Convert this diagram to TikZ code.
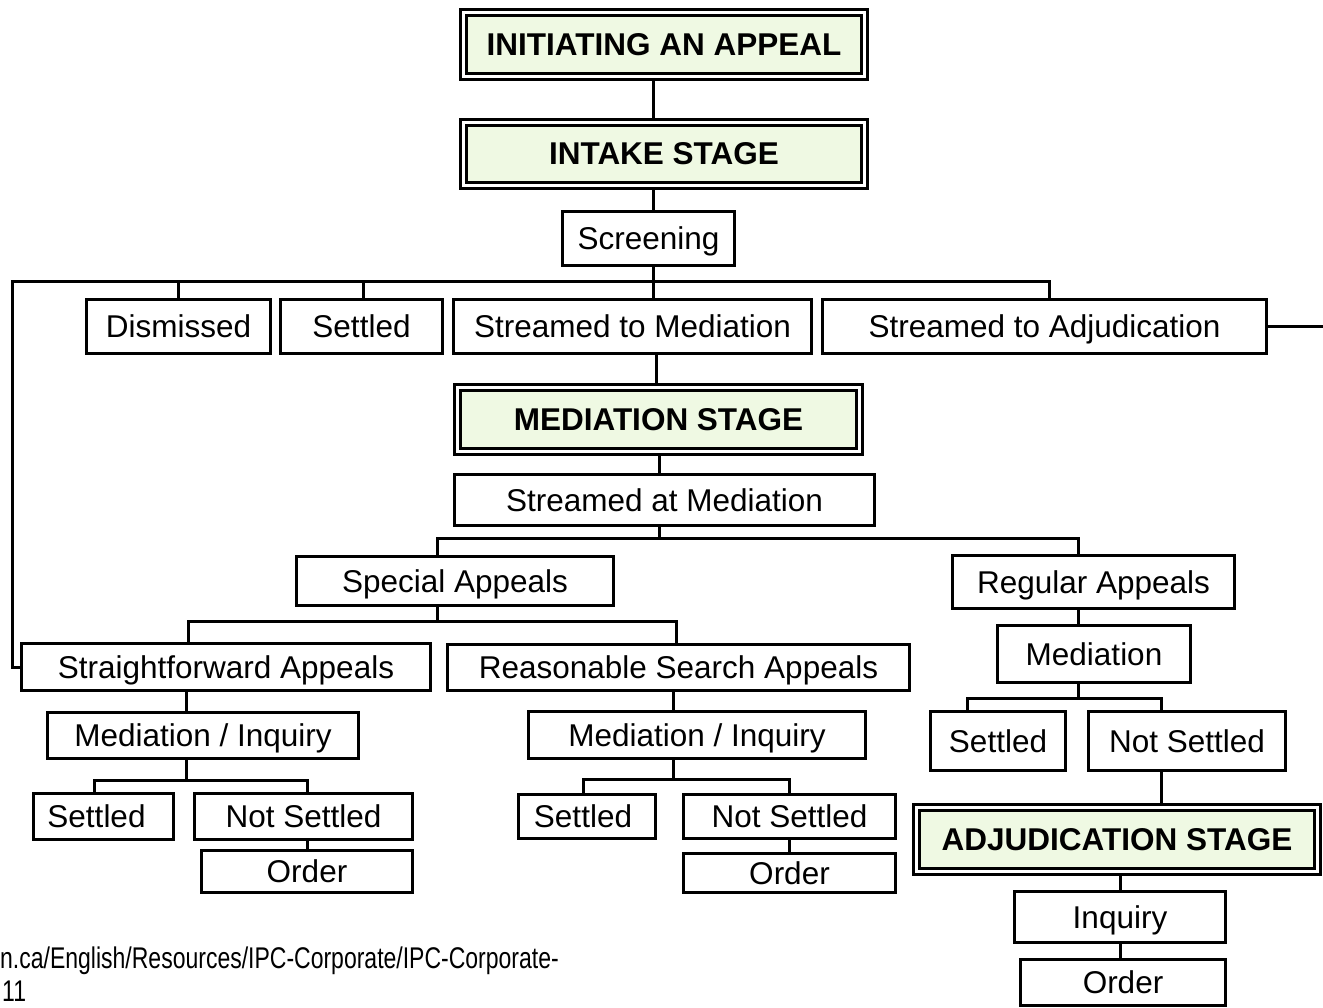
\documentclass[tikz,border=0pt]{standalone}
\usepackage{fontspec}
\setmainfont{Liberation Sans}
\definecolor{stagefill}{RGB}{239,249,227}
\newcommand{\bxnode}[7]{%
 \pgfmathsetmacro{\bcx}{(#3+#5)/2}%
 \pgfmathsetmacro{\bcy}{(#4+#6)/2}%
 \pgfmathsetmacro{\bw}{#5-#3-\bxin}%
 \pgfmathsetmacro{\bh}{#6-#4-\bxin}%
 \node[#1, minimum width=\bw pt, minimum height=\bh pt] (#2) at (\bcx,\bcy) {#7};}
\tikzset{
 plainbox/.style={draw=black, line width=3pt, fill=white, inner sep=0pt, outer sep=1.5pt,
   font=\fontsize{31.5}{34}\selectfont, text height=22pt, text depth=0pt},
 stagebox/.style={draw=black, line width=3.2pt, double=white, double distance=2.5pt,
   fill=stagefill, inner sep=0pt, outer sep=4.45pt,
   font=\fontsize{31.5}{34}\selectfont\bfseries, text height=22pt, text depth=0pt},
 conn/.style={draw=black, line width=3pt, line join=miter},
 srctext/.style={anchor=base west, inner sep=0pt, font=\fontsize{23}{26}\selectfont},
}
\begin{document}
\begin{tikzpicture}[x=1pt, y=-1pt]
\useasboundingbox[fill=white] (0,0) rectangle (1323,1008);
% stage boxes
\def\bxin{8.9}
\bxnode{stagebox}{init}{459}{8}{869}{81}{INITIATING AN APPEAL}
\bxnode{stagebox}{intake}{459}{118}{869}{190}{INTAKE STAGE}
\bxnode{stagebox}{medst}{453}{383}{864}{456}{MEDIATION STAGE}
\bxnode{stagebox}{adjst}{912}{803}{1322}{876}{ADJUDICATION STAGE}
% plain boxes
\def\bxin{3}
\bxnode{plainbox}{screen}{561}{210}{736}{267}{Screening}
\bxnode{plainbox}{dis}{85}{298}{272}{355}{Dismissed}
\bxnode{plainbox}{set1}{279}{298}{444}{355}{Settled}
\bxnode{plainbox}{smed}{452}{298}{813}{355}{Streamed to Mediation}
\bxnode{plainbox}{sadj}{821}{298}{1268}{355}{Streamed to Adjudication}
\bxnode{plainbox}{sam}{453}{473}{876}{527}{Streamed at Mediation}
\bxnode{plainbox}{spec}{295}{555}{615}{607}{Special Appeals}
\bxnode{plainbox}{reg}{951}{554}{1236}{610}{Regular Appeals}
\bxnode{plainbox}{sfwd}{20}{642}{432}{692}{Straightforward Appeals}
\bxnode{plainbox}{rsa}{446}{643}{911}{692}{Reasonable Search Appeals}
\bxnode{plainbox}{mi1}{46}{711}{360}{760}{Mediation / Inquiry}
\bxnode{plainbox}{mi2}{527}{710}{867}{760}{Mediation / Inquiry}
\bxnode{plainbox}{med3}{996}{624}{1192}{684}{Mediation}
\bxnode{plainbox}{s2}{32}{792}{175}{841}{Settled\hspace*{14pt}}
\bxnode{plainbox}{ns2}{193}{792}{414}{841}{Not Settled}
\bxnode{plainbox}{o2}{200}{849}{414}{894}{Order}
\bxnode{plainbox}{s3}{517}{793}{657}{840}{Settled\hspace*{8pt}}
\bxnode{plainbox}{ns3}{682}{793}{897}{840}{Not Settled}
\bxnode{plainbox}{o3}{682}{852}{897}{894}{Order}
\bxnode{plainbox}{s4}{929}{710}{1067}{772}{Settled}
\bxnode{plainbox}{ns4}{1087}{710}{1287}{772}{Not Settled}
\bxnode{plainbox}{inq}{1013}{890}{1227}{944}{Inquiry}
\bxnode{plainbox}{ord4}{1019}{958}{1227}{1007}{Order}
% junction coordinates
\coordinate (sp) at (653,0);
\coordinate (b1L) at (12,282);
\coordinate (b1R) at (1049,282);
\coordinate (t1) at (363,0);
\coordinate (rt) at (1323,0);
\coordinate (sp2) at (656,0);
\coordinate (sp3) at (659,0);
\coordinate (b2L) at (437,538);
\coordinate (b2R) at (1078,538);
\coordinate (b3L) at (188,621);
\coordinate (b3R) at (676,621);
\coordinate (sp4) at (186,0);
\coordinate (b4L) at (94,780);
\coordinate (b4R) at (307,780);
\coordinate (sp5) at (673,0);
\coordinate (b5L) at (583,779);
\coordinate (b5R) at (789,779);
\coordinate (b6L) at (967,698);
\coordinate (b6R) at (1161,698);
\coordinate (sp6) at (1120,0);
% connectors
\draw[conn] (init.south -| sp) -- (intake.north -| sp);
\draw[conn] (intake.south -| sp) -- (screen.north -| sp);
\draw[conn] (screen.south -| sp) -- (smed.north -| sp);
\draw[conn] (sadj.north -| b1R) -- (b1R) -- (b1L) -- (b1L |- sfwd.west) -- (sfwd.west);
\draw[conn] (dis.north) -- (dis.north |- b1L);
\draw[conn] (set1.north -| t1) -- (t1 |- b1L);
\draw[conn] (sadj.east) -- (sadj.east -| rt);
\draw[conn] (smed.south -| sp2) -- (medst.north -| sp2);
\draw[conn] (medst.south -| sp3) -- (sam.north -| sp3);
\draw[conn] (sam.south -| sp3) -- (sp3 |- b2L);
\draw[conn] (spec.north -| b2L) -- (b2L) -- (b2R) -- (reg.north -| b2R);
\draw[conn] (spec.south -| b2L) -- (b2L |- b3L);
\draw[conn] (sfwd.north -| b3L) -- (b3L) -- (b3R) -- (rsa.north -| b3R);
\draw[conn] (sfwd.south -| sp4) -- (mi1.north -| sp4);
\draw[conn] (mi1.south -| sp4) -- (sp4 |- b4L);
\draw[conn] (s2.north -| b4L) -- (b4L) -- (b4R) -- (ns2.north -| b4R);
\draw[conn] (ns2.south -| b4R) -- (o2.north -| b4R);
\draw[conn] (rsa.south -| sp5) -- (mi2.north -| sp5);
\draw[conn] (mi2.south -| sp5) -- (sp5 |- b5L);
\draw[conn] (s3.north -| b5L) -- (b5L) -- (b5R) -- (ns3.north -| b5R);
\draw[conn] (ns3.south -| b5R) -- (o3.north -| b5R);
\draw[conn] (reg.south -| b2R) -- (med3.north -| b2R);
\draw[conn] (med3.south -| b2R) -- (b2R |- b6L);
\draw[conn] (s4.north -| b6L) -- (b6L) -- (b6R) -- (ns4.north -| b6R);
\draw[conn] (ns4.south -| b6R) -- (adjst.north -| b6R);
\draw[conn] (adjst.south -| sp6) -- (inq.north -| sp6);
\draw[conn] (inq.south -| sp6) -- (ord4.north -| sp6);
% source text
\node[srctext] (src1) at (0,968)
  {\scalebox{1}[1.3]{n.ca/English/Resources/IPC-Corporate/IPC-Corporate-}};
\node[srctext] (src2) at (2,1001)
  {\scalebox{1}[1.3]{11}};
\end{tikzpicture}
\end{document}
